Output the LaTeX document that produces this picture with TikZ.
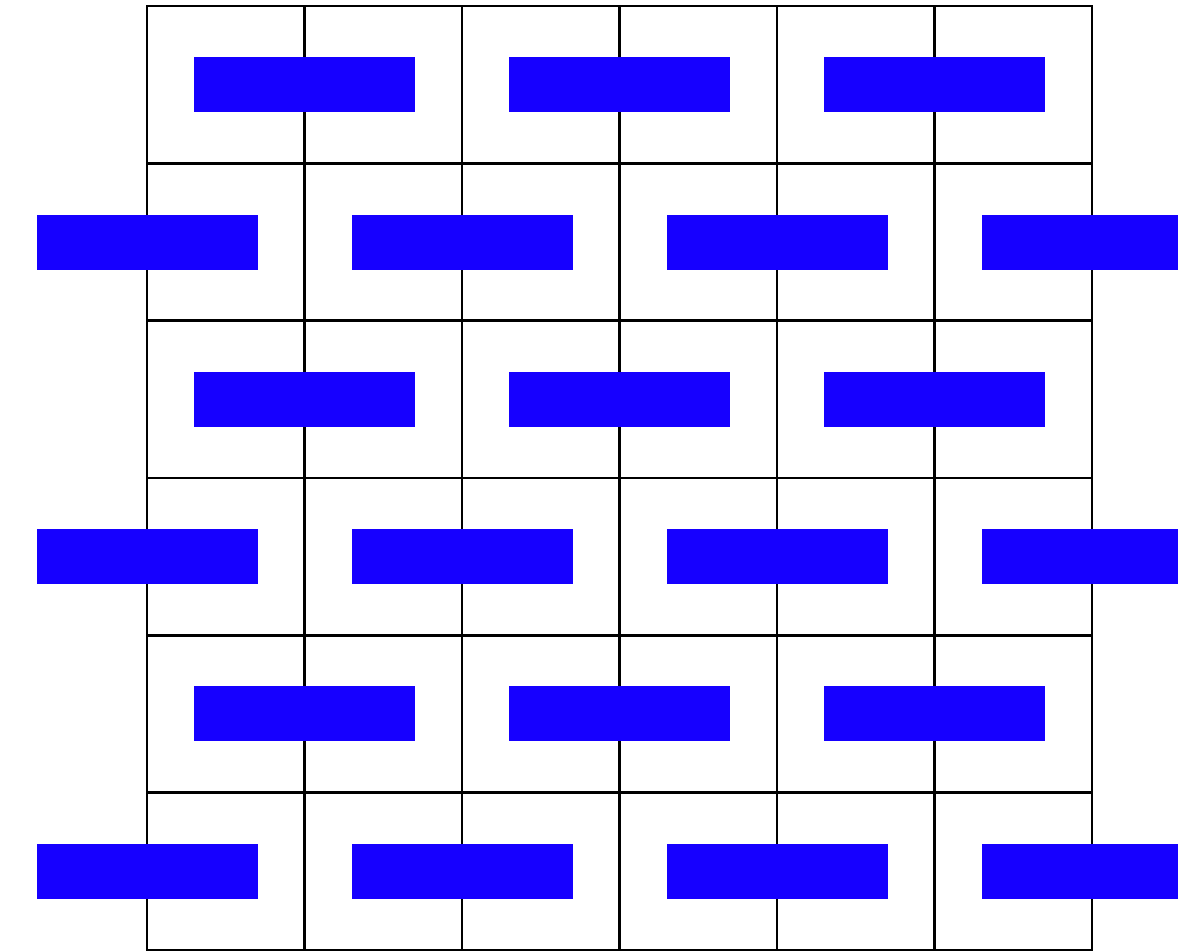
\documentclass[tikz,border=0pt]{standalone}
\definecolor{brick}{RGB}{22,0,255}
\tikzset{
  gridline/.style={black, line width=0.055cm, line cap=rect},
  brickbox/.style={fill=brick, draw=none}
}
\begin{document}
\begin{tikzpicture}[x=0.02cm,y=-0.02cm]
\useasboundingbox (0,0) rectangle (1178,951);
\clip (0,0) rectangle (1178,951);
% grid
\foreach \i in {0,...,6} {
  \draw[gridline] ({147+157.5*\i},6) -- ({147+157.5*\i},950);
  \draw[gridline] (147,{6+157.33*\i}) -- (1092,{6+157.33*\i});
}
% bricks
\foreach \r in {0,2,4} {
  \foreach \k in {0,1,2} {
    \fill[brickbox] ({147+157.5*(1+2*\k)-110.5},{6+157.33*(\r+0.5)-27.5}) rectangle ++(221,55);
  }
}
\foreach \r in {1,3,5} {
  \foreach \k in {0,1,2,3} {
    \fill[brickbox] ({147+157.5*(2*\k)-110.5},{6+157.33*(\r+0.5)-27.5}) rectangle ++(221,55);
  }
}
\end{tikzpicture}
\end{document}
